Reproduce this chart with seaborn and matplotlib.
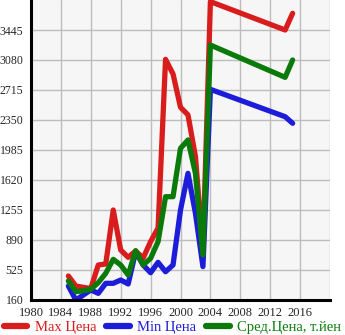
import matplotlib
matplotlib.use("Agg")
import matplotlib.pyplot as plt
import seaborn as sns
import pandas as pd
import numpy as np

years = [1985, 1986, 1987, 1988, 1989, 1990, 1991, 1992, 1993, 1994, 1995,
         1996, 1997, 1998, 1999, 2000, 2001, 2002, 2003, 2004, 2014, 2015]
max_price = [452, 330, 314, 300, 586, 598, 1255, 768, 679, 756, 670,
             870, 1036, 3088, 2910, 2505, 2412, 1905, 760, 3790, 3445, 3648]
min_price = [330, 160, 221, 282, 241, 363, 363, 403, 355, 748, 586,
             492, 618, 504, 586, 1255, 1701, 1215, 566, 2723, 2390, 2310]
avg_price = [391, 261, 273, 290, 371, 485, 655, 586, 464, 760, 586,
             667, 870, 1417, 1417, 2005, 2107, 1701, 708, 3262, 2869, 3080]

series_names = ["Max Цена", "Min Цена", "Сред.Цена, т.йен"]
series_colors = ["#d91c1c", "#1c1cd9", "#0a7a0a"]
x_ticks = [1980, 1984, 1988, 1992, 1996, 2000, 2004, 2008, 2012, 2016]
y_ticks = [160, 525, 890, 1255, 1620, 1985, 2350, 2715, 3080, 3445]

df = pd.DataFrame({
    "year": years * 3,
    "price": max_price + min_price + avg_price,
    "series": [series_names[0]] * len(years)
              + [series_names[1]] * len(years)
              + [series_names[2]] * len(years),
})

sns.set_style("white")
plt.rcParams["font.family"] = ["Liberation Serif", "DejaVu Serif"]

fig = plt.figure(figsize=(3.45, 3.35), dpi=100)
ax = fig.add_axes([31 / 345, 35 / 335, 299 / 345, 300 / 335])
ax.set_facecolor("#f6f6f6")

sns.lineplot(data=df, x="year", y="price", hue="series", hue_order=series_names,
             palette=series_colors, linewidth=3.8, ax=ax, legend=False,
             estimator=None, sort=False)
for line in ax.get_lines():
    line.set_solid_joinstyle("round")
    line.set_solid_capstyle("round")

ax.set_xlim(1980, 2020)
ax.set_ylim(160, 3810)
ax.set_xticks(x_ticks + [2020])
ax.set_xticklabels([str(t) for t in x_ticks] + [""])
ax.set_yticks(y_ticks)
ax.set_yticklabels([str(t) for t in y_ticks])
ax.grid(True, color="#bdbdbd", linewidth=1.0)
ax.set_axisbelow(True)
ax.set_xlabel("")
ax.set_ylabel("")

for side in ["top", "right"]:
    ax.spines[side].set_visible(False)
for side in ["left", "bottom"]:
    ax.spines[side].set_color("black")
    ax.spines[side].set_linewidth(2.2)

ax.tick_params(axis="both", direction="out", length=4, width=1, color="black")
ax.tick_params(axis="x", labelsize=9, pad=1)
ax.tick_params(axis="y", labelsize=8.5, pad=1.5)

handles = [plt.Line2D([], [], color=c, linewidth=4.5, solid_capstyle="round")
           for c in series_colors]
leg = fig.legend(handles, series_names, loc="center", ncol=3,
                 bbox_to_anchor=(0.5, 0.022), frameon=False, fontsize=10.5,
                 handlelength=1.6, handletextpad=0.5, columnspacing=0.7,
                 borderpad=0, borderaxespad=0)
for text, c in zip(leg.get_texts(), series_colors):
    text.set_color(c)

fig.savefig("out.png", dpi=100)
